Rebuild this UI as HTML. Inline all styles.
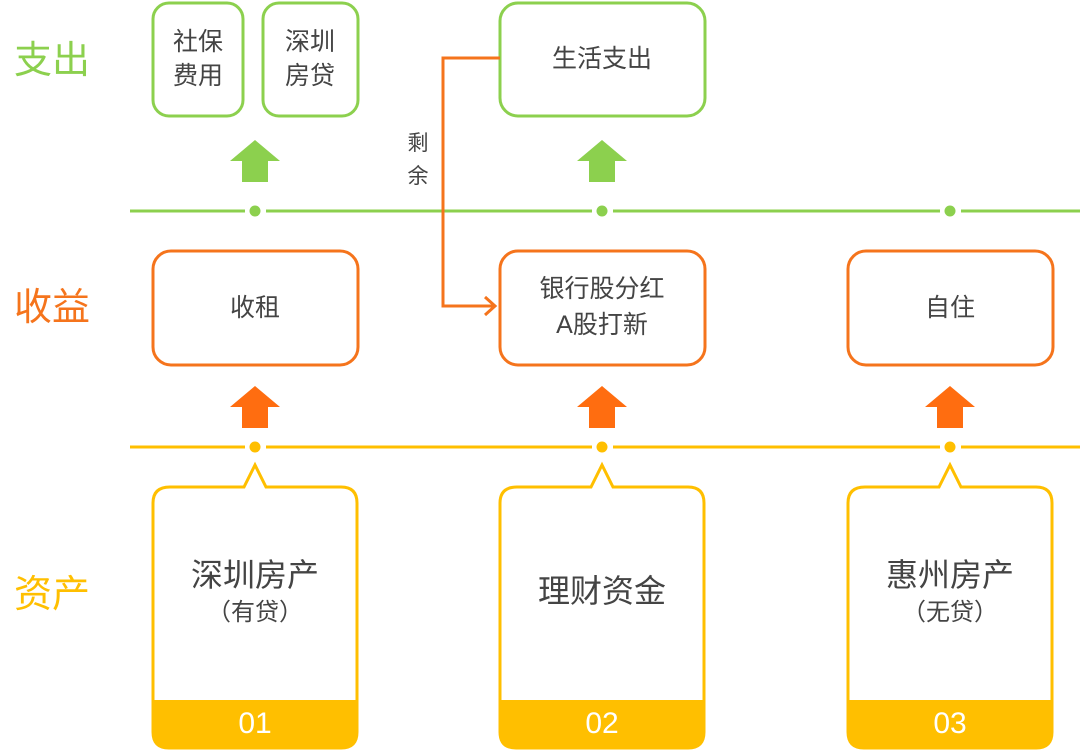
<!DOCTYPE html>
<html><head><meta charset="utf-8"><style>
html,body{margin:0;padding:0;background:#fff;}
svg{display:block;}
text{font-family:"Liberation Sans","Noto Sans CJK SC",sans-serif;}
</style></head><body>
<svg width="1080" height="751" viewBox="0 0 1080 751" xmlns="http://www.w3.org/2000/svg">
<text x="52" y="73" font-size="38" fill="#8cd04e" text-anchor="middle">支出</text>
<text x="52" y="320" font-size="38" fill="#f5741c" text-anchor="middle">收益</text>
<text x="52" y="607" font-size="38" fill="#ffbf00" text-anchor="middle">资产</text>

<g stroke="#8cd04e" stroke-width="3">
<line x1="130" y1="211" x2="245" y2="211"/><line x1="266" y1="211" x2="592" y2="211"/>
<line x1="613" y1="211" x2="940" y2="211"/><line x1="961" y1="211" x2="1080" y2="211"/>
</g>
<g fill="#8cd04e"><circle cx="255" cy="211" r="5.5"/><circle cx="602" cy="211" r="5.5"/><circle cx="950" cy="211" r="5.5"/></g>

<g stroke="#ffbf00" stroke-width="3">
<line x1="130" y1="447" x2="245" y2="447"/><line x1="266" y1="447" x2="592" y2="447"/>
<line x1="613" y1="447" x2="940" y2="447"/><line x1="961" y1="447" x2="1080" y2="447"/>
</g>
<g fill="#ffbf00"><circle cx="255" cy="447" r="5.5"/><circle cx="602" cy="447" r="5.5"/><circle cx="950" cy="447" r="5.5"/></g>

<g fill="#fff" stroke="#8cd04e" stroke-width="3">
<rect x="153" y="3" width="90" height="113" rx="16"/>
<rect x="263" y="3" width="95" height="113" rx="16"/>
<rect x="500" y="3" width="205" height="113" rx="18"/>
</g>
<g font-size="25" fill="#444" text-anchor="middle">
<text x="198" y="50">社保</text><text x="198" y="84">费用</text>
<text x="310" y="50">深圳</text><text x="310" y="84">房贷</text>
<text x="602" y="67">生活支出</text>
</g>

<g fill="#8cd04e">
<polygon points="230,161 255,140 280,161 268,161 268,182 242,182 242,161"/>
<polygon points="577,161 602,140 627,161 615,161 615,182 589,182 589,161"/>
</g>

<polyline points="500,58 443,58 443,306 495,306" fill="none" stroke="#f5741c" stroke-width="3"/>
<polyline points="485,297 495,306 485,315" fill="none" stroke="#f5741c" stroke-width="3"/>
<g font-size="21" fill="#444" text-anchor="middle">
<text x="418" y="150">剩</text><text x="418" y="183">余</text>
</g>

<g fill="#fff" stroke="#f5741c" stroke-width="3">
<rect x="153" y="251" width="205" height="114" rx="18"/>
<rect x="500" y="251" width="205" height="114" rx="18"/>
<rect x="848" y="251" width="205" height="114" rx="18"/>
</g>
<g font-size="25" fill="#444" text-anchor="middle">
<text x="255" y="316">收租</text>
<text x="602" y="297">银行股分红</text>
<text x="602" y="333">A股打新</text>
<text x="950" y="316">自住</text>
</g>

<g fill="#ff6d10">
<polygon points="230,407 255,386 280,407 268,407 268,428 242,428 242,407"/>
<polygon points="577,407 602,386 627,407 615,407 615,428 589,428 589,407"/>
<polygon points="925,407 950,386 975,407 963,407 963,428 937,428 937,407"/>
</g>

<g stroke="#ffbf00" stroke-width="3" fill="#fff">
<path d="M170,487 L244,487 L255,465 L266,487 L341,487 Q357,487 357,503 L357,732 Q357,748 341,748 L169,748 Q153,748 153,732 L153,503 Q153,487 170,487 Z"/>
<path d="M517,487 L591,487 L602,465 L613,487 L688,487 Q704,487 704,503 L704,732 Q704,748 688,748 L516,748 Q500,748 500,732 L500,503 Q500,487 517,487 Z"/>
<path d="M865,487 L939,487 L950,465 L961,487 L1036,487 Q1052,487 1052,503 L1052,732 Q1052,748 1036,748 L864,748 Q848,748 848,732 L848,503 Q848,487 865,487 Z"/>
</g>
<g fill="#ffbf00">
<path d="M152,700 L358,700 L358,732 Q358,749 341,749 L169,749 Q152,749 152,732 Z"/>
<path d="M499,700 L705,700 L705,732 Q705,749 688,749 L516,749 Q499,749 499,732 Z"/>
<path d="M847,700 L1053,700 L1053,732 Q1053,749 1036,749 L864,749 Q847,749 847,732 Z"/>
</g>
<g font-size="30" fill="#fff" text-anchor="middle">
<text x="255" y="733">01</text><text x="602" y="733">02</text><text x="950" y="733">03</text>
</g>
<g fill="#444" text-anchor="middle">
<text x="255" y="586" font-size="32">深圳房产</text>
<text x="255" y="620" font-size="24">（有贷）</text>
<text x="602" y="602" font-size="32">理财资金</text>
<text x="950" y="586" font-size="32">惠州房产</text>
<text x="950" y="620" font-size="24">（无贷）</text>
</g>
</svg>
</body></html>
